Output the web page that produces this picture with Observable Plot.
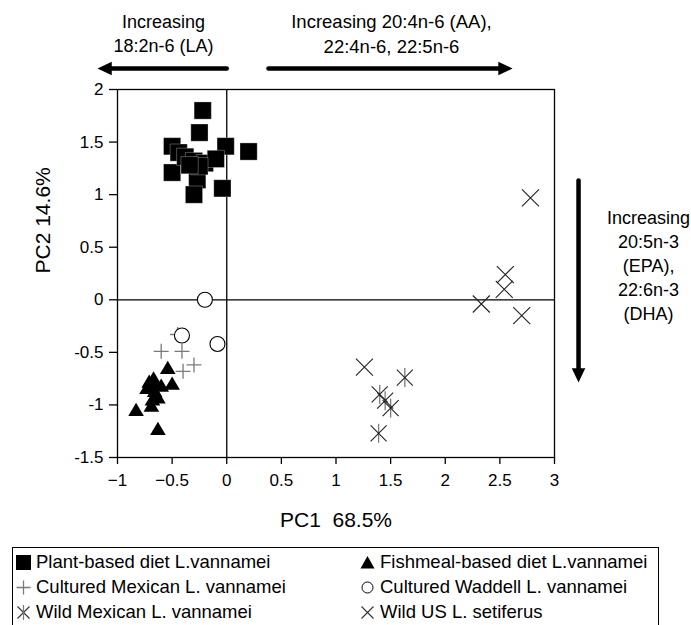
<!DOCTYPE html>
<html>
<head>
<meta charset="utf-8">
<script src="https://cdn.jsdelivr.net/npm/d3@7"></script>
<script src="https://cdn.jsdelivr.net/npm/@observablehq/plot@0.6"></script>
<style>
  body { margin: 0; background: #fff; font-family: "Liberation Sans", Arial, sans-serif; }
  #chart svg { display: block; }
  #legend {
    position: absolute; left: 12px; top: 547px; width: 647px; height: 90px;
    border: 1.3px solid #000; box-sizing: border-box; font-size: 18.5px; color: #000;
  }
  .item { position: absolute; display: flex; align-items: center; height: 24px; white-space: nowrap; }
  .item svg { margin-right: 4px; }
</style>
</head>
<body>
<div id="chart"></div>
<div id="legend"></div>
<script>
// ---- data ----
const groups = [
  "Plant-based diet L.vannamei",
  "Fishmeal-based diet L.vannamei",
  "Cultured Mexican L. vannamei",
  "Cultured Waddell L. vannamei",
  "Wild Mexican L. vannamei",
  "Wild US L. setiferus"
];
const plantX = [-0.22, -0.25, -0.50, -0.01, 0.20, -0.50, -0.27, -0.30, -0.04, -0.44, -0.38, -0.30, -0.20, -0.10, -0.25, -0.34];
const plantY = [ 1.80,  1.59,  1.46,  1.46, 1.41,  1.21,  1.14,  1.00,  1.06,  1.40,  1.36,  1.32,  1.30,  1.34,  1.27,  1.28];
const fishX = [-0.54, -0.50, -0.71, -0.67, -0.60, -0.73, -0.66, -0.63, -0.69, -0.83, -0.63, -0.68, -0.65];
const fishY = [-0.65, -0.80, -0.78, -0.75, -0.82, -0.84, -0.87, -0.93, -1.01, -1.05, -1.23, -0.95, -0.80];
const cultMexX = [-0.60, -0.41, -0.30, -0.45, -0.40];
const cultMexY = [-0.49, -0.49, -0.62, -0.33, -0.68];
const waddellX = [-0.20, -0.41, -0.085];
const waddellY = [ 0.00, -0.34, -0.42];
const wildMexX = [1.63, 1.50, 1.39, 1.40, 1.45];
const wildMexY = [-0.74, -1.03, -1.27, -0.90, -0.96];
const wildUSX = [1.26, 2.33, 2.55, 2.54, 2.70, 2.78];
const wildUSY = [-0.64, -0.04, 0.24, 0.10, -0.15, 0.97];

const xTicks = [-1, -0.5, 0, 0.5, 1, 1.5, 2, 2.5, 3];
const yTicks = [-1.5, -1, -0.5, 0, 0.5, 1, 1.5, 2];
const xLabel = "PC1  68.5%";
const yLabel = "PC2 14.6%";

// annotation arrows and texts (in data units)
const arrowsX1 = [0, 0.382, 3.22];
const arrowsY1 = [2.2, 2.2, 1.134];
const arrowsX2 = [-1.183, 2.616, 3.22];
const arrowsY2 = [2.2, 2.2, -0.787];
const arrowsRot = [180, 0, 90];
const notesText = ["Increasing\n18:2n-6 (LA)", "Increasing 20:4n-6 (AA),\n22:4n-6, 22:5n-6", "Increasing\n20:5n-3\n(EPA),\n22:6n-3\n(DHA)"];
const notesX = [-0.579, 1.508, 3.861];
const notesY = [2.542, 2.542, 0.336];
const notesSize = [18, 18.5, 18];

// ---- helpers ----
const pts = (xs, ys) => xs.map((x, i) => ({x, y: ys[i]}));
const rad = s => Math.sqrt(s / Math.PI);
const symSquare = {draw(c, s) { const r = rad(s); c.rect(-r, -r, 2 * r, 2 * r); }};
const symTri = {draw(c, s) { const r = rad(s); c.moveTo(0, -r * 0.95); c.lineTo(r, r * 0.75); c.lineTo(-r, r * 0.75); c.closePath(); }};
const symTimes = {draw(c, s) { const r = rad(s); c.moveTo(-r, -r); c.lineTo(r, r); c.moveTo(r, -r); c.lineTo(-r, r); }};
const symPlus = {draw(c, s) { const r = rad(s); c.moveTo(-r, 0); c.lineTo(r, 0); c.moveTo(0, -r); c.lineTo(0, r); }};
const symVLine = {draw(c, s) { const r = rad(s); c.moveTo(0, -r); c.lineTo(0, r); }};
const symHead = {draw(c, s) { const r = rad(s); c.moveTo(0, 0); c.lineTo(-1.9 * r, -0.9 * r); c.lineTo(-1.9 * r, 0.9 * r); c.closePath(); }};

const arrows = arrowsX1.map((x1, i) => ({x1, y1: arrowsY1[i], x2: arrowsX2[i], y2: arrowsY2[i], rot: arrowsRot[i]}));
const notes = notesText.map((t, i) => ({t, x: notesX[i], y: notesY[i], s: notesSize[i]}));

const fmtX = d => d < 0 ? "\u2212" + Math.abs(d) : String(d);
const fmtY = d => d < 0 ? "-" + Math.abs(d) : String(d);

const plot = Plot.plot({
  width: 691,
  height: 547,
  marginLeft: 117,
  marginRight: 137,
  marginTop: 89,
  marginBottom: 90,
  x: {domain: [-1, 3]},
  y: {domain: [-1.5, 2]},
  style: {fontFamily: "'Liberation Sans', Arial, sans-serif", fontSize: "17px", color: "#000", background: "#fff", overflow: "visible"},
  marks: [
    Plot.ruleX([0], {stroke: "#000", strokeWidth: 1.3}),
    Plot.ruleY([0], {stroke: "#000", strokeWidth: 1.3}),
    Plot.frame({stroke: "#000", strokeWidth: 1.3}),
    Plot.axisX({ticks: xTicks, tickFormat: fmtX, tickSize: 7, tickPadding: 9, label: null, fontSize: 17, strokeWidth: 1.3}),
    Plot.axisY({ticks: yTicks, tickFormat: fmtY, tickSize: 8, tickPadding: 6, label: null, fontSize: 17, strokeWidth: 1.3}),
    Plot.text([xLabel], {frameAnchor: "bottom", dy: 63, fontSize: 21, lineAnchor: "middle"}),
    Plot.text([yLabel], {frameAnchor: "left", dx: -74, rotate: -90, fontSize: 21, lineAnchor: "middle"}),
    // data
    Plot.dot(pts(cultMexX, cultMexY), {x: "x", y: "y", symbol: symPlus, r: 7.5, stroke: "#7a7a7a", strokeWidth: 1.3, fill: "none"}),
    Plot.dot(pts(waddellX, waddellY), {x: "x", y: "y", symbol: "circle", r: 7.5, stroke: "#000", strokeWidth: 1.1, fill: "#fff"}),
    Plot.dot(pts(fishX, fishY), {x: "x", y: "y", symbol: symTri, r: 7.8, fill: "#000", stroke: "none"}),
    Plot.dot(pts(plantX, plantY), {x: "x", y: "y", symbol: symSquare, r: 8.6, fill: "#000", stroke: "#fff", strokeWidth: 0.3}),
    Plot.dot(pts(wildMexX, wildMexY), {x: "x", y: "y", symbol: symVLine, r: 9.5, stroke: "#7a7a7a", strokeWidth: 1.3, fill: "none"}),
    Plot.dot(pts(wildMexX, wildMexY), {x: "x", y: "y", symbol: symTimes, r: 8, stroke: "#222", strokeWidth: 1.1, fill: "none"}),
    Plot.dot(pts(wildUSX, wildUSY), {x: "x", y: "y", symbol: symTimes, r: 8.5, stroke: "#222", strokeWidth: 1.1, fill: "none"}),
    // annotations
    Plot.arrow(arrows, {x1: "x1", y1: "y1", x2: "x2", y2: "y2", headLength: 0, insetEnd: 10, strokeWidth: 4.5, stroke: "#000", clip: false}),
    Plot.dot(arrows, {x: "x2", y: "y2", rotate: "rot", symbol: symHead, r: 7.5, fill: "#000", stroke: "none", clip: false}),
    Plot.text(notes, {x: "x", y: "y", text: "t", fontSize: "s", lineHeight: 1.33, textAnchor: "middle", lineAnchor: "middle", clip: false})
  ]
});
document.getElementById("chart").append(plot);

// ---- legend ----
const legendSyms = [
  `<rect x="1" y="1" width="15" height="15" fill="#000"/>`,
  `<path d="M8.5 2 L15.5 14.5 L1.5 14.5 Z" fill="#000"/>`,
  `<path d="M1.5 8.5 H15.5 M8.5 1.5 V15.5" stroke="#7a7a7a" stroke-width="1.3" fill="none"/>`,
  `<circle cx="8.5" cy="8.5" r="5.5" stroke="#000" stroke-width="1" fill="#fff"/>`,
  `<path d="M2.5 2.5 L14.5 14.5 M14.5 2.5 L2.5 14.5" stroke="#333" stroke-width="1.1" fill="none"/><path d="M8.5 1 V16" stroke="#7a7a7a" stroke-width="1.2"/>`,
  `<path d="M2.5 2.5 L14.5 14.5 M14.5 2.5 L2.5 14.5" stroke="#333" stroke-width="1.1" fill="none"/>`
];
const legendPos = [[2, 2], [346, 2], [2, 27], [346, 27], [2, 52], [346, 52]];
const legend = document.getElementById("legend");
groups.forEach((g, i) => {
  const d = document.createElement("div");
  d.className = "item";
  d.style.left = legendPos[i][0] + "px";
  d.style.top = legendPos[i][1] + "px";
  d.innerHTML = `<svg width="17" height="17" viewBox="0 0 17 17">${legendSyms[i]}</svg><span>${g}</span>`;
  legend.append(d);
});
</script>
</body>
</html>
